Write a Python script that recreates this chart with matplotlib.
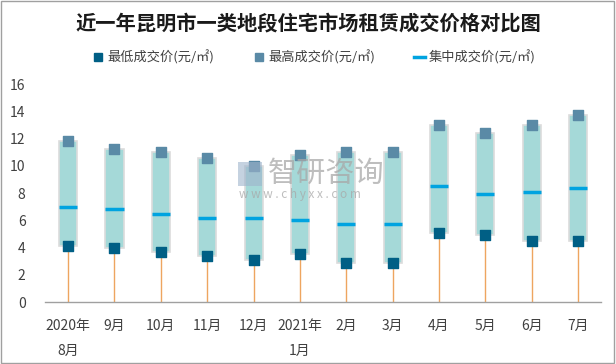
import matplotlib
matplotlib.use("Agg")
import matplotlib.pyplot as plt
import numpy as np
from matplotlib.lines import Line2D
from matplotlib.patches import Rectangle

plt.rcParams['font.family'] = ['Noto Sans CJK SC', 'DejaVu Sans']

months = ["2020年\n8月", "9月", "10月", "11月", "12月", "2021年\n1月",
          "2月", "3月", "4月", "5月", "6月", "7月"]
low = [4.1, 4.0, 3.7, 3.4, 3.1, 3.5, 2.9, 2.9, 5.1, 4.9, 4.5, 4.5]
high = [11.8, 11.2, 11.0, 10.6, 10.0, 10.8, 11.0, 11.0, 13.0, 12.4, 13.0, 13.7]
mid = [7.0, 6.8, 6.5, 6.2, 6.2, 6.0, 5.75, 5.75, 8.5, 7.9, 8.1, 8.4]

fig = plt.figure(figsize=(6.16, 3.64), dpi=100)
ax = fig.add_axes([0.073, 0.170, 0.903, 0.599])

x = np.arange(len(months))
w = 0.39

# orange drop lines from the axis up to the low value
ax.vlines(x, 0, low, color="#eea560", lw=1, zorder=1)

for xi, lo, hi in zip(x, low, high):
    ax.add_patch(Rectangle((xi - w / 2, lo), w, hi - lo, facecolor="#a5d9d8",
                           edgecolor="#dcdcdc", lw=1.2, zorder=2))

ax.hlines(mid, x - w / 2, x + w / 2, color="#00a3e0", lw=2.5, zorder=3)
ax.scatter(x, low, marker="s", s=42, color="#005f85", zorder=4)
ax.scatter(x, high, marker="s", s=42, color="#5a8aa6", zorder=4)

ax.set_xlim(-0.5, len(months) - 0.5)
ax.set_ylim(0, 16)
ax.set_yticks(range(0, 17, 2))
ax.set_xticks(x)
ax.set_xticklabels(months, fontsize=10, color="#404040", linespacing=2.0)
ax.tick_params(axis="y", labelsize=10, colors="#404040", length=0, pad=14)
ax.tick_params(axis="x", length=0, pad=12)
for s in ["top", "right", "left"]:
    ax.spines[s].set_visible(False)
ax.spines["bottom"].set_color("#a0a0a0")
ax.spines["bottom"].set_linewidth(1)

fig.text(0.5, 0.937, "近一年昆明市一类地段住宅市场租赁成交价格对比图", ha="center",
         va="center", fontsize=14.6, fontweight="bold", color="#1a1a1a")

handles = [
    Line2D([], [], marker="s", ls="none", color="#005f85", markersize=6),
    Line2D([], [], marker="s", ls="none", color="#5a8aa6", markersize=6),
    Line2D([], [], color="#00a3e0", lw=2.5),
]
labels = ["最低成交价(元/㎡)", "最高成交价(元/㎡)", "集中成交价(元/㎡)"]
fig.legend(handles, labels, loc="center", bbox_to_anchor=(0.51, 0.843), ncol=3,
           frameon=False, fontsize=9.5, handlelength=0.8, handletextpad=0.3,
           columnspacing=3.0, labelcolor="#404040")

# watermark
fig.text(0.435, 0.522, "智研咨询", fontsize=21, color="#a8a8a8", alpha=0.75,
         ha="left", va="center")
fig.text(0.388, 0.465, "w w w . c h y x x . c o m", fontsize=8.5, color="#a8a8a8",
         alpha=0.75, ha="left", va="center")
fig.add_artist(Rectangle((0.387, 0.49), 0.038, 0.065, transform=fig.transFigure,
                         facecolor="#9fb4cc", edgecolor="none", alpha=0.6))

fig.add_artist(Rectangle((0.002, 0.003), 0.995, 0.993, transform=fig.transFigure,
                         fill=False, edgecolor="#a0a0a0", lw=1))

fig.savefig("out.png", dpi=100)
